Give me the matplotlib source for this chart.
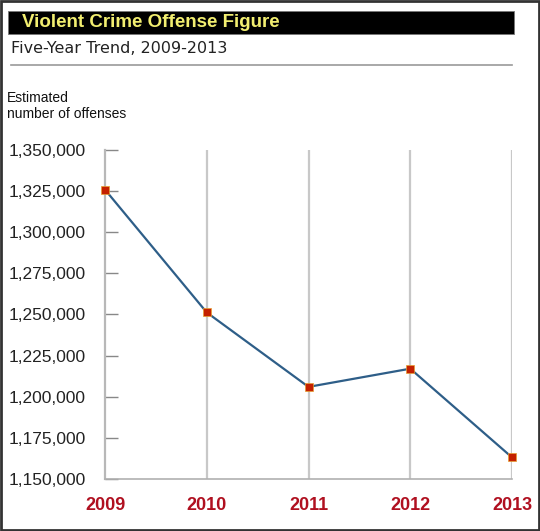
import matplotlib
matplotlib.use("Agg")
import matplotlib.pyplot as plt
from matplotlib.patches import Rectangle
from matplotlib.ticker import FuncFormatter

years = [2009, 2010, 2011, 2012, 2013]
offenses = [1325896, 1251248, 1206005, 1217067, 1163146]
y_ticks = [1150000, 1175000, 1200000, 1225000, 1250000, 1275000, 1300000, 1325000, 1350000]

W, H = 540, 531
fig = plt.figure(figsize=(W / 100, H / 100), dpi=100)
fig.patch.set_facecolor("white")


def fx(px):
    return px / W


def fy(py):
    return 1 - py / H


# outer border
fig.patches.append(Rectangle((0.002, 0.002), 0.996, 0.996, transform=fig.transFigure,
                             fill=False, edgecolor="#333333", linewidth=2))
# title bar
fig.patches.append(Rectangle((fx(8), fy(34)), fx(514 - 8), (34 - 11) / H,
                             transform=fig.transFigure, facecolor="black",
                             edgecolor="#777777", linewidth=0.6))
fig.text(fx(22), fy(22.5), "Violent Crime Offense Figure", color="#f2ee70",
         fontsize=13.5, fontweight="bold", family="Liberation Sans", va="center")
fig.text(fx(11), fy(48), "Five-Year Trend, 2009-2013", color="#222222",
         fontsize=11.5, family="DejaVu Sans", va="center")
fig.lines.append(plt.Line2D([fx(11), fx(512)], [fy(65), fy(65)], transform=fig.transFigure,
                            color="#999999", linewidth=1.2))
fig.text(fx(7), fy(98), "Estimated", fontsize=10, family="Liberation Sans",
         color="#111111", va="center")
fig.text(fx(7), fy(114), "number of offenses", fontsize=10, family="Liberation Sans",
         color="#111111", va="center")

ax = fig.add_axes([fx(105), fy(479), fx(512 - 105), (479 - 150) / H])
ax.set_xlim(2009, 2013)
ax.set_ylim(1150000, 1350000)

for yr in years[1:]:
    ax.axvline(yr, color="#c8c8c8", linewidth=1.6, zorder=1)

ax.plot(years, offenses, color="#2e5e88", linewidth=1.6, zorder=3, clip_on=False)
ax.plot(years, offenses, linestyle="none", marker="s", markersize=5.5,
        markerfacecolor="#c42000", markeredgecolor="#e8a030", markeredgewidth=0.5,
        zorder=4, clip_on=False)

for side in ["top", "right"]:
    ax.spines[side].set_visible(False)
ax.spines["left"].set_color("#b8b8b8")
ax.spines["left"].set_linewidth(1.6)
ax.spines["bottom"].set_color("#b0b0b0")
ax.spines["bottom"].set_linewidth(1.2)

ax.set_yticks(y_ticks)
ax.yaxis.set_major_formatter(FuncFormatter(lambda v, p: f"{int(v):,}"))
ax.tick_params(axis="y", direction="in", length=9, width=1, color="#888888",
               labelsize=12.5, labelcolor="#222222", pad=14)
ax.set_xticks(years)
ax.set_xticklabels([str(y) for y in years])
ax.tick_params(axis="x", length=0, labelsize=13, labelcolor="#b01020", pad=13)
for lab in ax.get_xticklabels():
    lab.set_fontweight("bold")
    lab.set_family("Liberation Sans")
for lab in ax.get_yticklabels():
    lab.set_family("Liberation Sans")

fig.savefig("out.png", dpi=100)
